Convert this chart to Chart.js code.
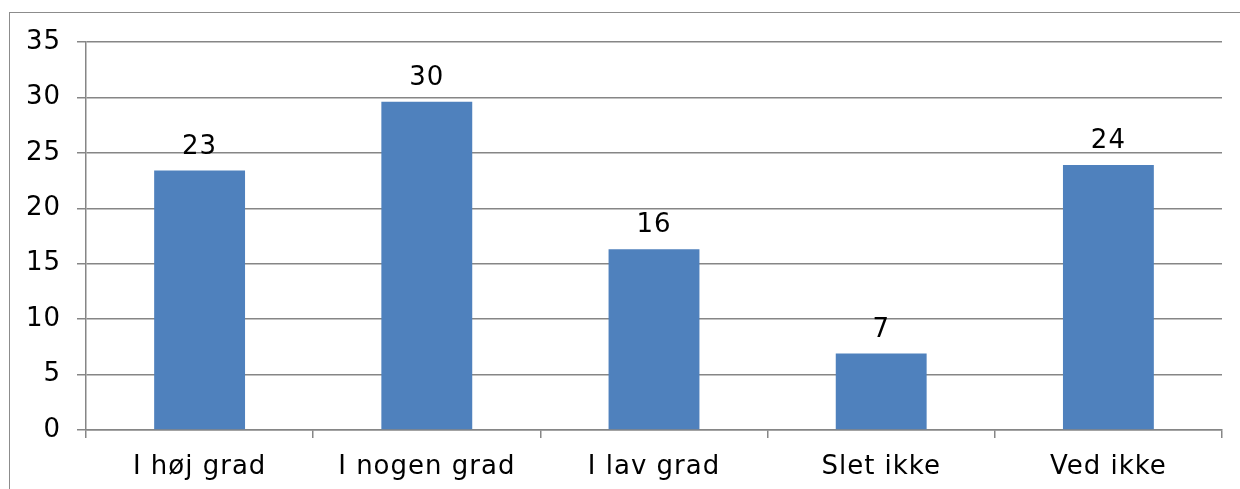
<!DOCTYPE html>
<html>
<head>
<meta charset="utf-8">
<script src="https://cdn.jsdelivr.net/npm/chart.js@4"></script>
<style>
  html, body { margin: 0; padding: 0; background: #fff; }
  #wrap { width: 1240px; height: 489px; }
</style>
</head>
<body>
<div id="wrap"><canvas id="chart"></canvas></div>
<script>
const categories = ['I høj grad', 'I nogen grad', 'I lav grad', 'Slet ikke', 'Ved ikke'];
const values = [23.4, 29.6, 16.3, 6.9, 23.9];
const valueLabels = ['23', '30', '16', '7', '24'];
const yTicks = [0, 5, 10, 15, 20, 25, 30, 35];

const FONT = "'DejaVu Sans', Verdana, sans-serif";
const GRID = '#868686';

// ramme rundt om hele diagrammet + lidt bredere tekst (Verdana-agtig)
const frame = {
    id: 'frame',
    beforeDraw(chart) {
        const ctx = chart.ctx;
        ctx.save();
        ctx.strokeStyle = '#8c8c8c';
        ctx.lineWidth = 1;
        ctx.strokeRect(9.5, 12.5, 1400, 600);
        ctx.restore();
        ctx.letterSpacing = '1px';
    }
};

// tal over søjlerne
const barLabels = {
    id: 'barLabels',
    afterDatasetsDraw(chart) {
        const ctx = chart.ctx;
        const meta = chart.getDatasetMeta(0);
        ctx.save();
        ctx.letterSpacing = '1px';
        ctx.font = '26px ' + FONT;
        ctx.fillStyle = '#000';
        ctx.textAlign = 'center';
        ctx.textBaseline = 'alphabetic';
        meta.data.forEach((bar, i) => {
            ctx.fillText(valueLabels[i], bar.x, bar.y - 17);
        });
        ctx.restore();
    }
};

new Chart(document.getElementById('chart').getContext('2d'), {
    type: 'bar',
    data: {
        labels: categories,
        datasets: [{ data: values, backgroundColor: '#4F81BD', categoryPercentage: 0.4, barPercentage: 1 }]
    },
    options: {
        responsive: true,
        maintainAspectRatio: false,
        animation: false,
        layout: { padding: { top: 42, right: 18, left: 0, bottom: 0 } },
        plugins: { legend: { display: false }, tooltip: { enabled: false } },
        scales: {
            x: {
                offset: true,
                grid: { offset: true, drawOnChartArea: false, drawTicks: true, tickLength: 8, color: GRID, lineWidth: 1.5 },
                border: { color: GRID, width: 1.5 },
                ticks: { color: '#000', font: { family: FONT, size: 26 }, padding: 14 },
                afterFit(scale) { scale.height = 59; }
            },
            y: {
                min: 0,
                max: 35,
                afterBuildTicks(scale) { scale.ticks = yTicks.map(v => ({ value: v })); },
                grid: { color: GRID, lineWidth: 1.5, tickLength: 9 },
                border: { color: GRID, width: 1.5 },
                ticks: { color: '#000', font: { family: FONT, size: 26 }, padding: 16 },
                afterFit(scale) { scale.width = 86; }
            }
        }
    },
    plugins: [frame, barLabels]
});
</script>
</body>
</html>
